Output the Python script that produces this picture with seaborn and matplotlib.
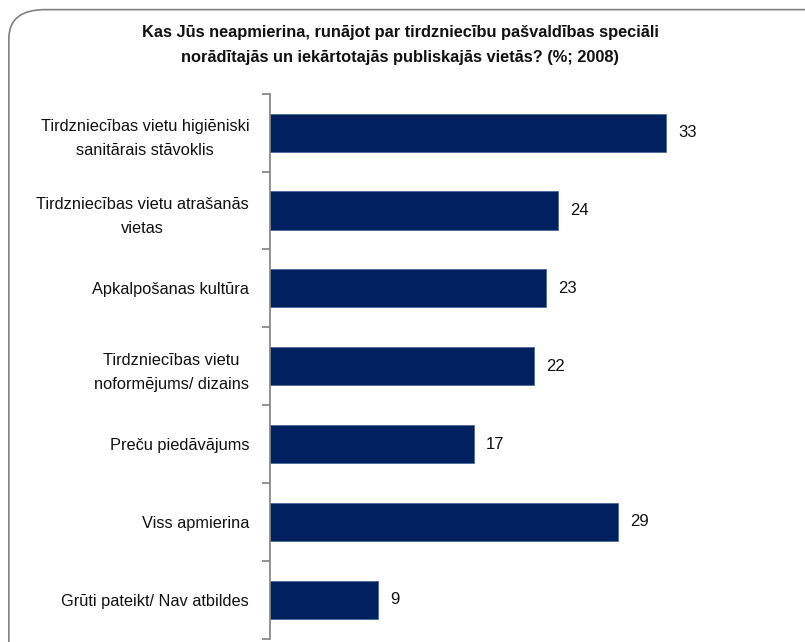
import matplotlib
matplotlib.use("Agg")
import matplotlib.pyplot as plt
import seaborn as sns
import pandas as pd
from matplotlib.patches import FancyBboxPatch

# data
categories = [
    "Tirdzniecības vietu higiēniski\nsanitārais stāvoklis",
    "Tirdzniecības vietu atrašanās\nvietas",
    "Apkalpošanas kultūra",
    "Tirdzniecības vietu\nnoformējums/ dizains",
    "Preču piedāvājums",
    "Viss apmierina",
    "Grūti pateikt/ Nav atbildes",
]
values = [33, 24, 23, 22, 17, 29, 9]
title = ("Kas Jūs neapmierina, runājot par tirdzniecību pašvaldības speciāli\n"
         "norādītajās un iekārtotajās publiskajās vietās? (%; 2008)")

bar_color = "#002060"

sns.set_theme(style="white")
plt.rcParams["font.family"] = ["Liberation Sans", "DejaVu Sans"]

df = pd.DataFrame({"label": categories, "value": values})

fig = plt.figure(figsize=(8.05, 6.42), dpi=100)

# rounded frame around the chart
frame = FancyBboxPatch((0.011, -0.05), 1.05, 1.035,
                       boxstyle="round,pad=0,rounding_size=0.045",
                       transform=fig.transFigure, fill=False,
                       edgecolor="#808080", linewidth=1.2)
fig.patches.append(frame)

ax = fig.add_axes([0.3354, 0.005, 0.65, 0.849])
sns.barplot(data=df, x="value", y="label", color=bar_color, width=0.49,
            edgecolor="#4a6a9a", linewidth=0.6, ax=ax, saturation=1)

ax.set_xlim(0, 43.6)
ax.set_ylim(6.5, -0.5)
ax.set_xlabel("")
ax.set_ylabel("")
ax.set_xticks([])

for s in ["top", "right", "bottom"]:
    ax.spines[s].set_visible(False)
ax.spines["left"].set_color("#808080")
ax.spines["left"].set_linewidth(1.2)

ax.set_yticks(range(len(categories)))
ax.set_yticklabels(categories, fontsize=11.8, multialignment="center",
                   linespacing=1.75, color="#111111")
ax.tick_params(axis="y", which="major", length=0, pad=15)
ax.set_yticks([i - 0.5 for i in range(len(categories) + 1)], minor=True)
ax.tick_params(axis="y", which="minor", length=6, color="#808080", width=1.2, left=True)

for i, v in enumerate(values):
    ax.text(v + 1.0, i, str(v), va="center", ha="left", fontsize=12,
            color="#111111")

fig.text(0.497, 0.93, title, ha="center", va="center", fontsize=11.8,
         fontweight="bold", linespacing=1.9, color="#111111")

fig.savefig("out.png", dpi=100)
